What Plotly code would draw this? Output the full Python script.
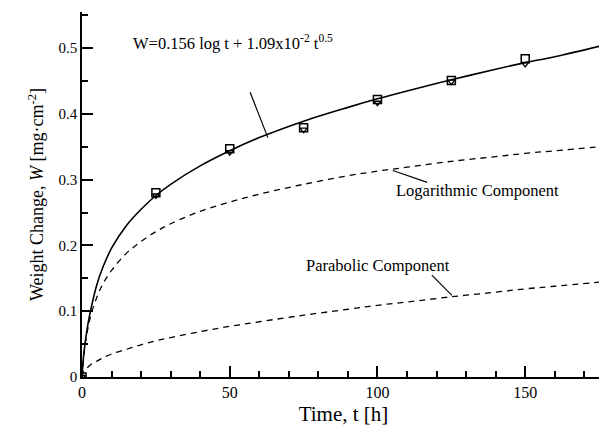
import plotly.graph_objects as go

# Read-off values
t_curve = [0, 0.5, 1, 2, 3, 5, 7, 10, 15, 20, 25, 30, 40, 50, 60, 75, 90, 100, 110, 125, 140, 150, 160, 177]
w_total = [0, 0.030, 0.050, 0.080, 0.103, 0.140, 0.166, 0.196, 0.230, 0.255, 0.276, 0.293, 0.321, 0.344, 0.364, 0.389, 0.410, 0.423, 0.435, 0.452, 0.468, 0.478, 0.487, 0.505]
w_log = [0, 0.027, 0.047, 0.074, 0.094, 0.121, 0.141, 0.162, 0.188, 0.206, 0.221, 0.233, 0.252, 0.266, 0.278, 0.293, 0.306, 0.313, 0.319, 0.328, 0.335, 0.340, 0.344, 0.351]
w_par = [0, 0.008, 0.011, 0.015, 0.019, 0.024, 0.029, 0.035, 0.042, 0.049, 0.055, 0.060, 0.069, 0.077, 0.084, 0.094, 0.103, 0.109, 0.114, 0.122, 0.129, 0.134, 0.138, 0.145]

t_data = [0, 25, 50, 75, 100, 125, 150]
w_square = [0, 0.280, 0.347, 0.379, 0.422, 0.451, 0.484]
w_triangle = [0, 0.276, 0.342, 0.376, 0.417, 0.449, 0.476]

FONT = "Liberation Serif"
XR = [0, 177]
YR = [0, 0.555]

fig = go.Figure()
fig.add_trace(go.Scatter(x=t_curve, y=w_total, mode="lines", line=dict(color="black", width=1.6, shape="spline"), showlegend=False))
fig.add_trace(go.Scatter(x=t_curve, y=w_log, mode="lines", line=dict(color="black", width=1.3, dash="6px,5px", shape="spline"), showlegend=False))
fig.add_trace(go.Scatter(x=t_curve, y=w_par, mode="lines", line=dict(color="black", width=1.3, dash="6px,5px", shape="spline"), showlegend=False))
fig.add_trace(go.Scatter(x=t_data, y=w_square, mode="markers", marker=dict(symbol="square-open", size=8, color="black", line=dict(width=1.5)), showlegend=False))
fig.add_trace(go.Scatter(x=t_data, y=w_triangle, mode="markers", marker=dict(symbol="triangle-down-open", size=6, color="black", line=dict(width=1.3)), showlegend=False))

# invisible trace to activate the minor-tick overlay axes
fig.add_trace(go.Scatter(x=XR, y=YR, xaxis="x2", yaxis="y2", mode="markers", marker=dict(opacity=0), hoverinfo="skip", showlegend=False))

fig.add_annotation(x=51, y=0.509, xref="x", yref="y", showarrow=False,
                   text="W=0.156 log t + 1.09x10<sup>-2</sup> t<sup>0.5</sup>",
                   font=dict(family=FONT, size=16.5, color="black"))
fig.add_annotation(x=134, y=0.284, xref="x", yref="y", showarrow=False,
                   text="Logarithmic Component", font=dict(family=FONT, size=16.5, color="black"))
fig.add_annotation(x=100.2, y=0.170, xref="x", yref="y", showarrow=False,
                   text="Parabolic Component", font=dict(family=FONT, size=16.5, color="black"))

for (x0, y0, x1, y1) in [(56.9, 0.433, 62.9, 0.364), (105.2, 0.314, 116.8, 0.296), (118.4, 0.155, 125.2, 0.124)]:
    fig.add_shape(type="line", xref="x", yref="y", x0=x0, y0=y0, x1=x1, y1=y1,
                  line=dict(color="black", width=1.2))

fig.update_layout(
    width=599, height=431,
    margin=dict(l=74, r=2, t=4, b=62),
    paper_bgcolor="white", plot_bgcolor="white",
    font=dict(family=FONT, color="black"),
    xaxis=dict(
        range=XR, tick0=0, dtick=50, ticks="inside", ticklen=11, tickwidth=1.6, tickcolor="black",
        showline=True, linecolor="black", linewidth=1.5, showgrid=False, zeroline=False, automargin=False,
        layer="above traces",
        tickfont=dict(family=FONT, size=16, color="black"),
        title=dict(text="Time, t [h]", font=dict(family=FONT, size=21, color="black"), standoff=6),
    ),
    yaxis=dict(
        range=YR, tick0=0, dtick=0.1, ticks="inside", ticklen=11, tickwidth=1.6, tickcolor="black",
        showline=True, linecolor="black", linewidth=1.5, showgrid=False, zeroline=False, automargin=False,
        layer="above traces",
        tickfont=dict(family=FONT, size=15, color="black"),
        title=dict(text="Weight Change, <i>W</i> [mg·cm<sup>-2</sup>]", font=dict(family=FONT, size=18, color="black"), standoff=10),
    ),
    xaxis2=dict(
        range=XR, overlaying="x", anchor="y", side="bottom", tick0=0, dtick=10, ticks="inside", ticklen=6, tickwidth=1.6,
        tickcolor="black", showticklabels=False, showgrid=False, zeroline=False, showline=False, automargin=False,
    ),
    yaxis2=dict(
        range=YR, overlaying="y", anchor="x", side="left", tick0=0, dtick=0.05, ticks="inside", ticklen=6, tickwidth=1.6,
        tickcolor="black", showticklabels=False, showgrid=False, zeroline=False, showline=False, automargin=False,
    ),
)

fig.write_html("out.html")
